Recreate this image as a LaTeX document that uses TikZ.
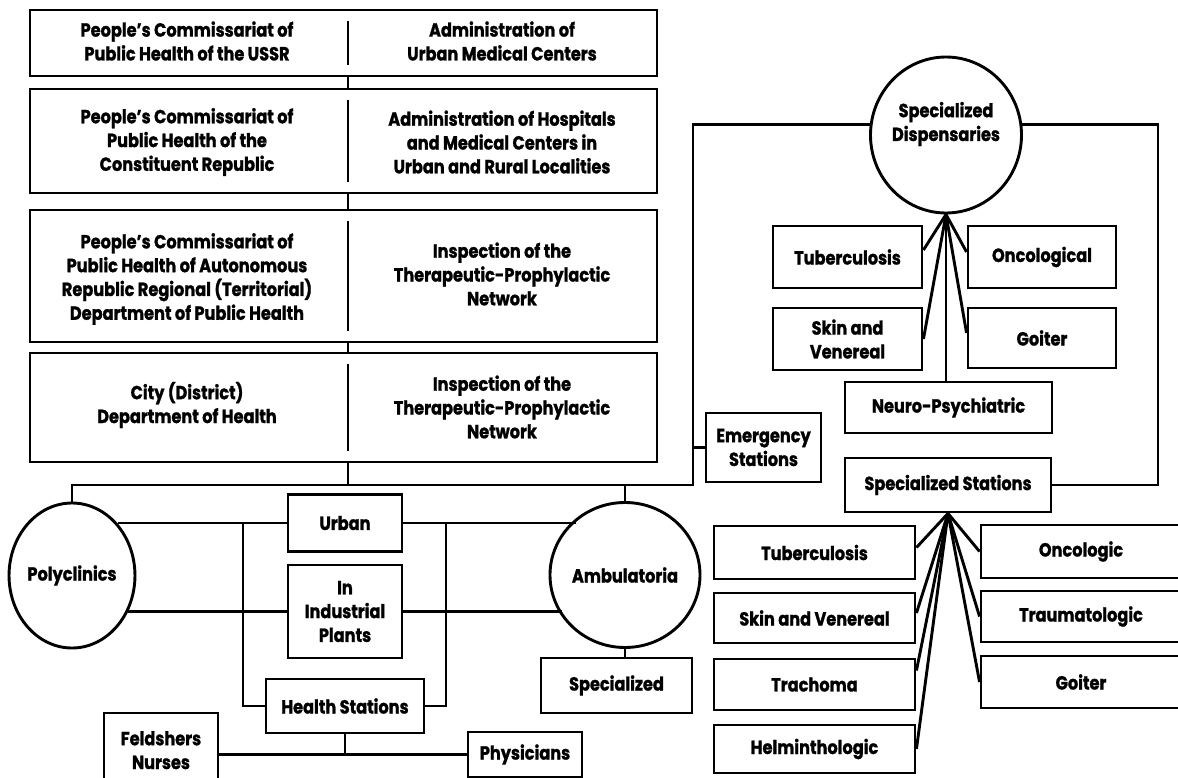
\documentclass[tikz,border=0pt]{standalone}
\usepackage{fontspec}
\setmainfont{Poppins}[FakeStretch=0.85,BoldFeatures={FakeBold=1.2}]
\usetikzlibrary{shapes.geometric,calc}
\newcommand\lbl{\fontsize{19}{23.8}\selectfont\bfseries}
\begin{document}
\begin{tikzpicture}[x=1pt,y=-1pt,line width=2.9pt,
  box/.style={draw,rectangle,inner sep=0pt,align=center,font=\lbl},
  oval/.style={draw,ellipse,inner sep=0pt,align=center,font=\lbl},
  txt/.style={align=center,inner sep=0pt,font=\lbl}]
\useasboundingbox (0,0) rectangle (1178,778);
% ---------- top stack ----------
\coordinate (dv) at (348,0);
\node[box,minimum width=627,minimum height=66] (b1) at (343.5,43) {};
\node[box,minimum width=627,minimum height=104] (b2) at (343.5,141) {};
\node[box,minimum width=627,minimum height=132] (b3) at (343.5,276) {};
\node[box,minimum width=627,minimum height=109] (b4) at (343.5,407.5) {};
\node[txt] (b1l) at (187,41) {People’s Commissariat of\\Public Health of the USSR};
\node[txt] (b1r) at (502,41) {Administration of\\Urban Medical Centers};
\node[txt] (b2l) at (187,142) {People’s Commissariat of\\Public Health of the\\Constituent Republic};
\node[txt] (b2r) at (502,142) {Administration of Hospitals\\and Medical Centers in\\Urban and Rural Localities};
\node[txt] (b3l) at (187,279) {People’s Commissariat of\\Public Health of Autonomous\\Republic Regional (Territorial)\\Department of Public Health};
\node[txt] (b3r) at (502,274) {Inspection of the\\Therapeutic-Prophylactic\\Network};
\node[txt] (b4l) at (187,405) {City (District)\\Department of Health};
\node[txt] (b4r) at (502,407) {Inspection of the\\Therapeutic-Prophylactic\\Network};
% ---------- lower left ----------
\coordinate (tr) at (693,485);
\coordinate (lx) at (243,0);
\coordinate (rx) at (446,0);
\coordinate (rr) at (1158,0);
\node[oval,minimum width=119,minimum height=145] (poly) at (72,575.5) {Polyclinics};
\node[oval,minimum width=125,minimum height=145] (amb) at (625,575) {Ambulatoria};
\node[box,minimum width=114,minimum height=57] (urb) at (345,523) {Urban};
\node[box,minimum width=114,minimum height=93] (ind) at (345,611.5) {In\\Industrial\\Plants};
\node[box,minimum width=158,minimum height=54] (hs) at (345,706) {Health Stations};
\node[box,minimum width=114,minimum height=98] (fel) at (161,762) {Feldshers\\Nurses\\\mbox{}};
\node[box,minimum width=114,minimum height=45] (phy) at (525,754.5) {Physicians};
\node[box,minimum width=151,minimum height=55] (spa) at (616.5,685.5) {Specialized};
\node[box,minimum width=115,minimum height=69] (emg) at (763.5,447.5) {Emergency\\Stations};
% ---------- dispensaries ----------
\node[draw,ellipse,minimum width=151,minimum height=156,inner sep=0pt] (disp) at (946,135) {};
\node[txt] (dispt) at (946,124) {Specialized\\Dispensaries};
\node[box,minimum width=149,minimum height=62] (dt) at (847.5,257) {Tuberculosis};
\node[box,minimum width=148,minimum height=62] (do) at (1042,257) {Oncological};
\node[box,minimum width=149,minimum height=62] (ds) at (847.5,339) {Skin and\\Venereal};
\node[box,minimum width=148,minimum height=60] (dg) at (1042,338) {Goiter};
\node[box,minimum width=207,minimum height=51] (dn) at (948.5,407.5) {Neuro-Psychiatric};
% ---------- stations ----------
\node[box,minimum width=206,minimum height=54] (sst) at (948,485) {Specialized Stations};
\node[box,minimum width=201,minimum height=53] (st1) at (814.5,552.5) {Tuberculosis};
\node[box,minimum width=201,minimum height=50] (st2) at (814.5,618) {Skin and Venereal};
\node[box,minimum width=201,minimum height=51] (st3) at (814.5,684.5) {Trachoma};
\node[box,minimum width=201,minimum height=48] (st4) at (814.5,749) {Helminthologic};
\node[box,minimum width=200,minimum height=53] (st5) at (1081,551.5) {Oncologic};
\node[box,minimum width=200,minimum height=51] (st6) at (1081,616.5) {Traumatologic};
\node[box,minimum width=200,minimum height=52] (st7) at (1081,682) {Goiter};
% ---------- connectors ----------
\foreach \b in {b1,b2,b3,b4}{
  \draw ([yshift=-12pt]\b.north -| dv) -- ([yshift=12pt]\b.south -| dv);
}
\draw (b1.south -| dv) -- (b2.north -| dv);
\draw (b2.south -| dv) -- (b3.north -| dv);
\draw (b3.south -| dv) -- (b4.north -| dv);
\draw (b4.south -| dv) -- (dv |- tr);
\draw (poly.north) -- (poly.north |- tr) -- (tr) -- (tr |- disp.172) -- (disp.172);
\draw (amb.north) -- (amb.north |- tr);
\draw (emg.west -| tr) -- (emg.west);
\draw (urb.west -| poly.49) -- (urb.west);
\draw (lx |- urb.west) |- (hs.west);
\draw (ind.west -| poly.-34) -- (ind.west);
\draw (urb.east) -- (urb.east -| amb.131);
\draw (rx |- urb.east) |- (hs.east);
\draw (ind.east) -- (ind.east -| amb.-147);
\draw (amb.south) -- (amb.south |- spa.north);
\draw (hs.south) -- (hs.south |- phy.west);
\draw (fel.east |- phy.west) -- (phy.west);
\draw (disp.south) -- ([yshift=7pt]dt.east);
\draw (disp.south) -- (ds.east);
\draw (disp.south) -- ([yshift=5pt]do.west);
\draw (disp.south) -- ([yshift=5pt]dg.west);
\draw (disp.south) -- (disp.south |- dn.north);
\draw (disp.8) -- (disp.8 -| rr) -- (rr |- sst.east) -- (sst.east);
\draw (sst.south) -- ([yshift=5pt]st1.east);
\draw (sst.south) -- ([yshift=5pt]st2.east);
\draw (sst.south) -- ([yshift=14pt]st3.east);
\draw (sst.south) -- (st4.east);
\draw (sst.south) -- (st5.west);
\draw (sst.south) -- (st6.west);
\draw (sst.south) -- (st7.west);
\end{tikzpicture}
\end{document}
